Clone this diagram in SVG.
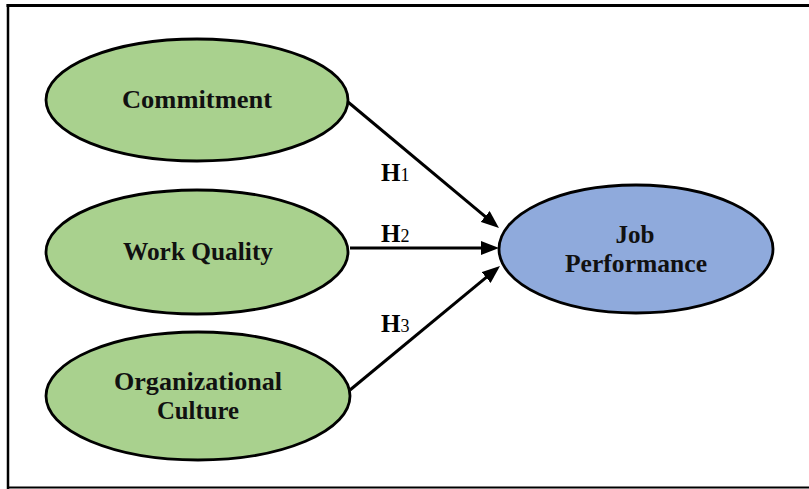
<svg xmlns="http://www.w3.org/2000/svg" width="809" height="489" viewBox="0 0 809 489">
<style>
.frame{stroke:#000;fill:none}
.green{fill:#A9D18E;stroke:#000;stroke-width:2.8}
.blue{fill:#8FAADC;stroke:#000;stroke-width:2.8}
.lbl{font-family:"Liberation Serif","Times New Roman",serif;font-weight:bold;font-size:25px;fill:#111;text-anchor:middle}
.h{font-family:"Liberation Serif","Times New Roman",serif;font-weight:bold;font-size:25px;fill:#000}
.sub{font-weight:normal;font-size:18px}
.conn{stroke:#000;stroke-width:3;fill:none;marker-end:url(#arr)}
</style>
<defs>
<marker id="arr" viewBox="0 0 18 14" refX="8" refY="7" markerWidth="18" markerHeight="14" markerUnits="userSpaceOnUse" orient="auto">
<path d="M0,0 L18,7 L0,14 z" fill="#000"/>
</marker>
</defs>
<rect width="809" height="489" fill="#fff"/>
<g id="frame">
<line class="frame" x1="6.5" y1="5.5" x2="809" y2="5.5" stroke-width="3"/>
<line class="frame" x1="8" y1="4" x2="8" y2="489" stroke-width="2.5"/>
<line class="frame" x1="7" y1="487.5" x2="809" y2="487.5" stroke-width="2"/>
</g>
<g id="connectors">
<path class="conn" d="M348,102 L491.3,221.6"/>
<path class="conn" d="M350,248 L489,248"/>
<path class="conn" d="M350,390 L492.3,272.4"/>
<text class="h" x="381" y="181">H<tspan class="sub">1</tspan></text>
<text class="h" x="381" y="242">H<tspan class="sub">2</tspan></text>
<text class="h" x="381" y="332">H<tspan class="sub">3</tspan></text>
</g>
<g id="commitment">
<ellipse class="green" cx="197" cy="100" rx="151" ry="61"/>
<text class="lbl" x="197" y="108" textLength="150" lengthAdjust="spacingAndGlyphs">Commitment</text>
</g>
<g id="work-quality">
<ellipse class="green" cx="197" cy="252" rx="151" ry="62"/>
<text class="lbl" x="198" y="260" textLength="150" lengthAdjust="spacingAndGlyphs">Work Quality</text>
</g>
<g id="organizational-culture">
<ellipse class="green" cx="198" cy="396" rx="152" ry="64"/>
<text class="lbl" x="198" y="390" textLength="168" lengthAdjust="spacingAndGlyphs">Organizational</text>
<text class="lbl" x="198" y="419" textLength="82" lengthAdjust="spacingAndGlyphs">Culture</text>
</g>
<g id="job-performance">
<ellipse class="blue" cx="636" cy="249" rx="137" ry="64"/>
<text class="lbl" x="635" y="243" textLength="39" lengthAdjust="spacingAndGlyphs">Job</text>
<text class="lbl" x="636" y="272" textLength="142" lengthAdjust="spacingAndGlyphs">Performance</text>
</g>
</svg>
